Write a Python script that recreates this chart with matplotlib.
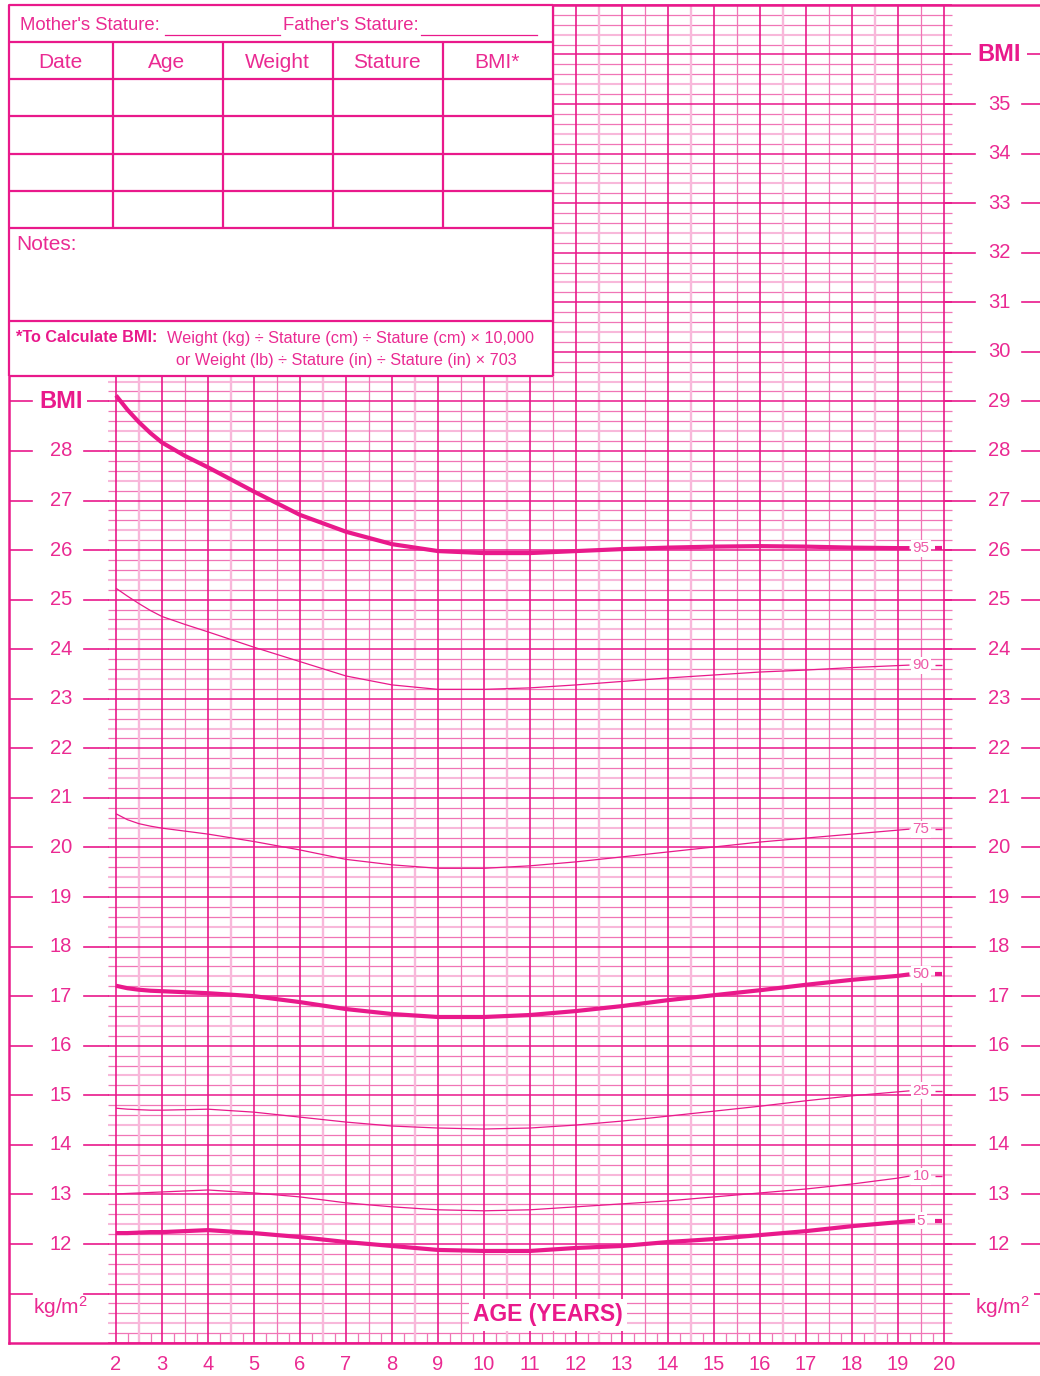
import matplotlib
matplotlib.use('Agg')
import matplotlib.pyplot as plt
from matplotlib.patches import Rectangle
import numpy as np

plt.rcParams['font.family'] = ['Liberation Sans', 'DejaVu Sans']
plt.rcParams['mathtext.fontset'] = 'custom'
plt.rcParams['mathtext.rm'] = 'Liberation Sans'
plt.rcParams['mathtext.it'] = 'Liberation Sans'

# ---------------- data ----------------
AGES = [2, 2.25, 2.5, 2.75, 3, 3.5, 4, 5, 6, 7, 8, 9, 10, 11, 12, 13, 14, 15, 16, 17, 18, 19, 19.25]
P95 = [29.12, 28.83, 28.58, 28.36, 28.17, 27.90, 27.67, 27.18, 26.71, 26.37, 26.12, 25.98, 25.94, 25.94, 25.98, 26.02, 26.05, 26.07, 26.08, 26.07, 26.05, 26.04, 26.04]
P90 = [25.23, 25.07, 24.92, 24.78, 24.66, 24.50, 24.35, 24.04, 23.75, 23.46, 23.28, 23.19, 23.19, 23.22, 23.28, 23.35, 23.42, 23.48, 23.54, 23.58, 23.63, 23.67, 23.68]
P75 = [20.68, 20.56, 20.48, 20.43, 20.39, 20.33, 20.27, 20.12, 19.95, 19.76, 19.65, 19.58, 19.58, 19.63, 19.71, 19.81, 19.91, 20.01, 20.11, 20.19, 20.27, 20.35, 20.37]
P50 = [17.21, 17.16, 17.13, 17.11, 17.10, 17.08, 17.06, 17.00, 16.88, 16.74, 16.64, 16.58, 16.58, 16.62, 16.70, 16.80, 16.92, 17.02, 17.12, 17.23, 17.33, 17.41, 17.44]
P25 = [14.74, 14.72, 14.71, 14.70, 14.70, 14.71, 14.72, 14.66, 14.56, 14.46, 14.38, 14.34, 14.32, 14.34, 14.40, 14.48, 14.58, 14.68, 14.78, 14.89, 14.99, 15.07, 15.09]
P10 = [13.01, 13.02, 13.03, 13.04, 13.05, 13.07, 13.09, 13.03, 12.95, 12.83, 12.75, 12.69, 12.67, 12.69, 12.75, 12.81, 12.87, 12.95, 13.03, 13.11, 13.21, 13.33, 13.37]
P05 = [12.22, 12.22, 12.23, 12.24, 12.24, 12.26, 12.28, 12.22, 12.14, 12.04, 11.96, 11.88, 11.86, 11.86, 11.92, 11.96, 12.04, 12.10, 12.18, 12.26, 12.36, 12.44, 12.47]
PCT_NAMES = ['95', '90', '75', '50', '25', '10', '5']
PCT_VALUES = [P95, P90, P75, P50, P25, P10, P05]
PCT_BOLD = [True, False, False, True, False, False, True]

AGE_TICKS = list(range(2, 21))
LEFT_BMI_TICKS = list(range(12, 29))
RIGHT_BMI_TICKS = list(range(12, 36))
TABLE_COLS = ['Date', 'Age', 'Weight', 'Stature', 'BMI*']

# ---------------- style ----------------
PINK = '#E9198B'
PINK_MED = '#F075B6'
PINK_LIGHT = '#F8B8DA'
TXT = '#EA2A92'

W, H = 1040, 1376
fig = plt.figure(figsize=(W / 100, H / 100), dpi=100)
ax = fig.add_axes([0, 0, 1, 1])


def X(px):
    return 2 + (px - 116) / 46.0


def Y(py):
    return 12 + (1244 - py) / 49.565


ax.set_xlim(X(0), X(W))
ax.set_ylim(Y(H), Y(0))
ax.axis('off')

YMIN, YMAX = 10, 37
XL, XR = X(108), X(952)

# ---- grid ----
for i in range(YMIN * 5, YMAX * 5):
    if i % 5 == 0:
        continue
    b = i / 5.0
    if i % 5 == 2:
        ax.hlines(b, XL, XR, color=PINK_LIGHT, lw=1.5, zorder=1)
    else:
        ax.hlines(b, XL, XR, color=PINK_MED, lw=0.9, zorder=1)
for k, a in enumerate(np.arange(2.5, 20, 1.0)):
    if k % 2 == 0:
        ax.vlines(a, YMIN, YMAX, color=PINK_LIGHT, lw=1.7, zorder=1.2)
    else:
        ax.vlines(a, YMIN, YMAX, color=PINK_MED, lw=0.9, zorder=1.2)
for a in np.arange(2.25, 20, 0.5):
    ax.vlines(a, YMIN, YMIN + 0.2, color=PINK_MED, lw=0.9, zorder=1.2)
for b in range(YMIN, YMAX + 1):
    ax.hlines(b, XL, XR, color=PINK, lw=1.1, zorder=1.5)
for a in AGE_TICKS:
    ax.vlines(a, YMIN, YMAX, color=PINK, lw=1.2, zorder=1.6)

# ---- frame ----
ax.plot([X(9), X(W)], [YMIN, YMIN], color=PINK, lw=1.8, zorder=3)
ax.plot([X(9), X(W)], [YMAX, YMAX], color=PINK, lw=1.8, zorder=3)
ax.plot([X(9), X(9)], [YMIN, YMAX], color=PINK, lw=1.8, zorder=3)

# ---- percentile curves ----
for name, vals, bold in zip(PCT_NAMES, PCT_VALUES, PCT_BOLD):
    ages = AGES if name != '5' else AGES[:-1] + [19.37]
    ax.plot(ages, vals, color=PINK, lw=3.0 if bold else 0.9,
            solid_capstyle='butt', solid_joinstyle='round', zorder=4)
    yv = vals[-1]
    ax.text(X(921), yv, name, ha='center', va='center', fontsize=11,
            color='#EE5AA8', zorder=6,
            bbox=dict(boxstyle='square,pad=0.1', fc='white', ec='none'))
    ax.plot([X(935), X(942)], [yv, yv], color=PINK,
            lw=3.0 if bold else 1.0, solid_capstyle='butt', zorder=6)

# ---- left axis ----
for b in LEFT_BMI_TICKS:
    ax.text(X(61), b, str(b), ha='center', va='center', fontsize=14.5, color=TXT, zorder=7)
for b in LEFT_BMI_TICKS + [29, 11]:
    ax.plot([X(10), X(32)], [b, b], color=PINK, lw=1.2, zorder=3)
    ax.plot([X(84), X(108)], [b, b], color=PINK, lw=1.2, zorder=3)
ax.text(X(61), 29, 'BMI', ha='center', va='center', fontsize=17,
        fontweight='bold', color=PINK, zorder=7,
        bbox=dict(boxstyle='square,pad=0.2', fc='white', ec='none'))
ax.text(X(60), Y(1307), r'kg/m$^2$', ha='center', va='center', fontsize=15, color=TXT, zorder=7)

# ---- right axis ----
for b in RIGHT_BMI_TICKS:
    ax.text(X(999), b, str(b), ha='center', va='center', fontsize=14.5, color=TXT, zorder=7)
for b in RIGHT_BMI_TICKS + [36, 11]:
    ax.plot([X(944), X(975)], [b, b], color=PINK, lw=1.2, zorder=3)
    ax.plot([X(1022), X(W)], [b, b], color=PINK, lw=1.2, zorder=3)
ax.text(X(999), 36, 'BMI', ha='center', va='center', fontsize=17,
        fontweight='bold', color=PINK, zorder=7,
        bbox=dict(boxstyle='square,pad=0.25', fc='white', ec='none'))
ax.text(X(1002), Y(1307), r'kg/m$^2$', ha='center', va='center', fontsize=15, color=TXT, zorder=7,
        bbox=dict(boxstyle='square,pad=0.2', fc='white', ec='none'))

# ---- bottom axis ----
for a in AGE_TICKS:
    ax.text(a, Y(1365), str(a), ha='center', va='center', fontsize=14.5, color=TXT, zorder=7)
ax.text(X(548), Y(1315), 'AGE (YEARS)', ha='center', va='center', fontsize=16.5,
        fontweight='bold', color=PINK, zorder=7,
        bbox=dict(boxstyle='square,pad=0.2', fc='white', ec='none'))

# ---- table box (upper left) ----
ax.add_patch(Rectangle((X(9), Y(376)), X(553) - X(9), Y(5) - Y(376),
                       fc='white', ec='none', zorder=5))
tl = dict(color=PINK, lw=1.6, zorder=6, solid_capstyle='butt')
ax.plot([X(9), X(553)], [Y(5), Y(5)], **tl)
ax.plot([X(9), X(553)], [Y(376), Y(376)], **tl)
ax.plot([X(553), X(553)], [Y(5), Y(376)], **tl)
ax.plot([X(9), X(9)], [Y(5), Y(376)], **tl)
for py in [42, 79, 116, 154, 191, 228, 321]:
    ax.plot([X(9), X(553)], [Y(py), Y(py)], **tl)
col_edges = [9, 113, 223, 333, 443, 553]
for px in col_edges[1:-1]:
    ax.plot([X(px), X(px)], [Y(42), Y(228)], **tl)
for i, name in enumerate(TABLE_COLS):
    cx = (col_edges[i] + col_edges[i + 1]) / 2 - 1
    ax.text(X(cx), Y(62), name, ha='center', va='center', fontsize=15, color=TXT, zorder=7)

ax.text(X(20), Y(26), "Mother's Stature:", ha='left', va='center', fontsize=13.3, color=TXT, zorder=7)
ax.plot([X(165), X(280)], [Y(35), Y(35)], color=PINK, lw=0.9, zorder=7)
ax.text(X(283), Y(26), "Father's Stature:", ha='left', va='center', fontsize=13.3, color=TXT, zorder=7)
ax.plot([X(421), X(537)], [Y(35), Y(35)], color=PINK, lw=0.9, zorder=7)
ax.text(X(16), Y(244), 'Notes:', ha='left', va='center', fontsize=15, color=TXT, zorder=7)
ax.text(X(16), Y(338), '*To Calculate BMI:', ha='left', va='center', fontsize=11.7,
        fontweight='bold', color=PINK, zorder=7)
ax.text(X(167), Y(338), 'Weight (kg) ÷ Stature (cm) ÷ Stature (cm) × 10,000',
        ha='left', va='center', fontsize=11.7, color=TXT, zorder=7)
ax.text(X(176), Y(361), 'or Weight (lb) ÷ Stature (in) ÷ Stature (in) × 703',
        ha='left', va='center', fontsize=11.7, color=TXT, zorder=7)

fig.savefig('out.png', dpi=100, facecolor='white')
